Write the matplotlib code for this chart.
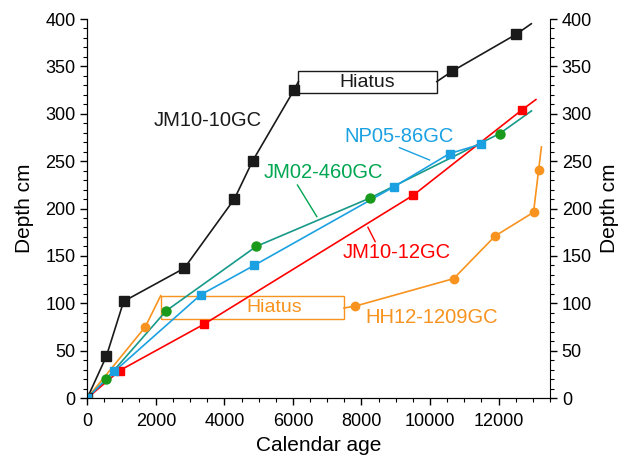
import matplotlib
matplotlib.use("Agg")
import matplotlib.pyplot as plt
from matplotlib.patches import Rectangle
from matplotlib.ticker import MultipleLocator

plt.rcParams['font.family'] = ['Liberation Sans', 'DejaVu Sans']

# JM10-10GC (black), split by hiatus
jm1010_age_a = [0, 555, 1060, 2830, 4290, 4820, 6030]
jm1010_dep_a = [0, 44, 102, 137, 210, 250, 325]
jm1010_age_b = [10650, 12520]
jm1010_dep_b = [345, 384]
jm1010_line_start = (6160, 334)   # hiatus box left edge
jm1010_line_resume = (10200, 334) # hiatus box right edge
jm1010_line_end = (12955, 395)

# JM10-12GC (red)
jm1012_age = [0, 945, 3410, 9510, 12680]
jm1012_dep = [0, 29, 78, 214, 304]
jm1012_line_end = (13090, 315)

# JM02-460GC (green)
jm02_age = [0, 555, 2300, 4930, 8245, 12030]
jm02_dep = [0, 20, 92, 160, 211, 279]
jm02_line_end = (12960, 303)

# NP05-86GC (blue)
np05_age = [0, 785, 3310, 4870, 8950, 10570, 11500]
np05_dep = [0, 28, 109, 140, 223, 258, 268]

# HH12-1209GC (orange), split by hiatus
hh12_age_a = [0, 1690]
hh12_dep_a = [0, 75]
hh12_age_b = [7820, 10690, 11900, 13020, 13170]
hh12_dep_b = [97, 126, 171, 196, 241]
hh12_line_stop = (2140, 108)
hh12_line_resume = (7490, 95)
hh12_line_end = (13250, 265)

# hiatus boxes: (x0, y0, x1, y1)
hiatus_black = (6160, 322, 10200, 345)
hiatus_orange = (2140, 83, 7490, 108)

black = '#1a1a1a'
red = '#ff0000'
teal = '#17998a'
green_mk = '#1a9a1a'
green_txt = '#00a651'
blue = '#1ba1e2'
orange = '#f7931e'

fig = plt.figure(figsize=(6.22, 4.58), dpi=100)
ax = fig.add_axes([0.1404, 0.131, 0.7438, 0.8275])

lw = 1.2
# black
ax.plot(jm1010_age_a + [jm1010_line_start[0]], jm1010_dep_a + [jm1010_line_start[1]], color=black, lw=lw, zorder=3)
ax.plot([jm1010_line_resume[0]] + jm1010_age_b + [jm1010_line_end[0]],
        [jm1010_line_resume[1]] + jm1010_dep_b + [jm1010_line_end[1]], color=black, lw=lw, zorder=3)
ax.plot(jm1010_age_a + jm1010_age_b, jm1010_dep_a + jm1010_dep_b, 's', color=black, ms=6.5, zorder=4)

# orange
ax.plot(hh12_age_a + [hh12_line_stop[0]], hh12_dep_a + [hh12_line_stop[1]], color=orange, lw=lw, zorder=3)
ax.plot([hh12_line_resume[0]] + hh12_age_b + [hh12_line_end[0]],
        [hh12_line_resume[1]] + hh12_dep_b + [hh12_line_end[1]], color=orange, lw=lw, zorder=3)
ax.plot(hh12_age_a + hh12_age_b, hh12_dep_a + hh12_dep_b, 'o', color=orange, ms=6, zorder=4)

# green
ax.plot(jm02_age + [jm02_line_end[0]], jm02_dep + [jm02_line_end[1]], color=teal, lw=lw, zorder=3)
ax.plot(jm02_age, jm02_dep, 'o', color=green_mk, ms=6.5, zorder=4)

# red
ax.plot(jm1012_age + [jm1012_line_end[0]], jm1012_dep + [jm1012_line_end[1]], color=red, lw=lw, zorder=3)
ax.plot(jm1012_age, jm1012_dep, 's', color=red, ms=6, zorder=4)

# blue
ax.plot(np05_age, np05_dep, color=blue, lw=lw, zorder=3)
ax.plot(np05_age, np05_dep, 's', color=blue, ms=6, zorder=5)

# hiatus boxes
for (x0, y0, x1, y1), c in [(hiatus_black, black), (hiatus_orange, orange)]:
    ax.add_patch(Rectangle((x0, y0), x1 - x0, y1 - y0, fill=False, edgecolor=c, lw=1.0, zorder=2))
ax.text(8175, 333.5, 'Hiatus', color=black, fontsize=14, ha='center', va='center')
ax.text(5451, 95.3, 'Hiatus', color=orange, fontsize=14, ha='center', va='center')

# series labels + leaders
ax.text(3509, 293.4, 'JM10-10GC', color=black, fontsize=14.5, ha='center', va='center')
ax.text(9101, 275.5, 'NP05-86GC', color=blue, fontsize=14.5, ha='center', va='center')
ax.plot([9109, 9985], [264.2, 251.2], color=blue, lw=1.0)
ax.text(6882, 238, 'JM02-460GC', color=green_txt, fontsize=14.5, ha='center', va='center')
ax.plot([6131, 6697], [224.8, 191.4], color=green_txt, lw=1.0)
ax.text(9042, 153.6, 'JM10-12GC', color=red, fontsize=14.5, ha='center', va='center')
ax.plot([8400, 8187], [165, 180.2], color=red, lw=1.0)
ax.text(10055, 85, 'HH12-1209GC', color=orange, fontsize=14.5, ha='center', va='center')

ax.set_xlim(0, 13500)
ax.set_ylim(0, 400)
ax.xaxis.set_major_locator(MultipleLocator(2000))
ax.xaxis.set_minor_locator(MultipleLocator(500))
ax.yaxis.set_major_locator(MultipleLocator(50))
ax.yaxis.set_minor_locator(MultipleLocator(10))
ax.tick_params(which='major', direction='out', length=5, width=1, labelsize=13)
ax.tick_params(axis='x', which='major', pad=6)
ax.tick_params(which='minor', direction='out', length=3, width=0.8)
ax.set_xlabel('Calendar age', fontsize=15, labelpad=4)
ax.set_ylabel('Depth cm', fontsize=15, labelpad=8)

ax2 = ax.twinx()
ax2.set_ylim(0, 400)
ax2.yaxis.set_major_locator(MultipleLocator(50))
ax2.yaxis.set_minor_locator(MultipleLocator(10))
ax2.tick_params(which='major', direction='out', length=5, width=1, labelsize=13)
ax2.tick_params(which='minor', direction='out', length=3, width=0.8)
ax2.set_ylabel('Depth cm', fontsize=15, labelpad=6)

for a in (ax, ax2):
    a.spines['top'].set_visible(False)
ax.spines['right'].set_visible(False)

fig.savefig('out.png', dpi=100)
